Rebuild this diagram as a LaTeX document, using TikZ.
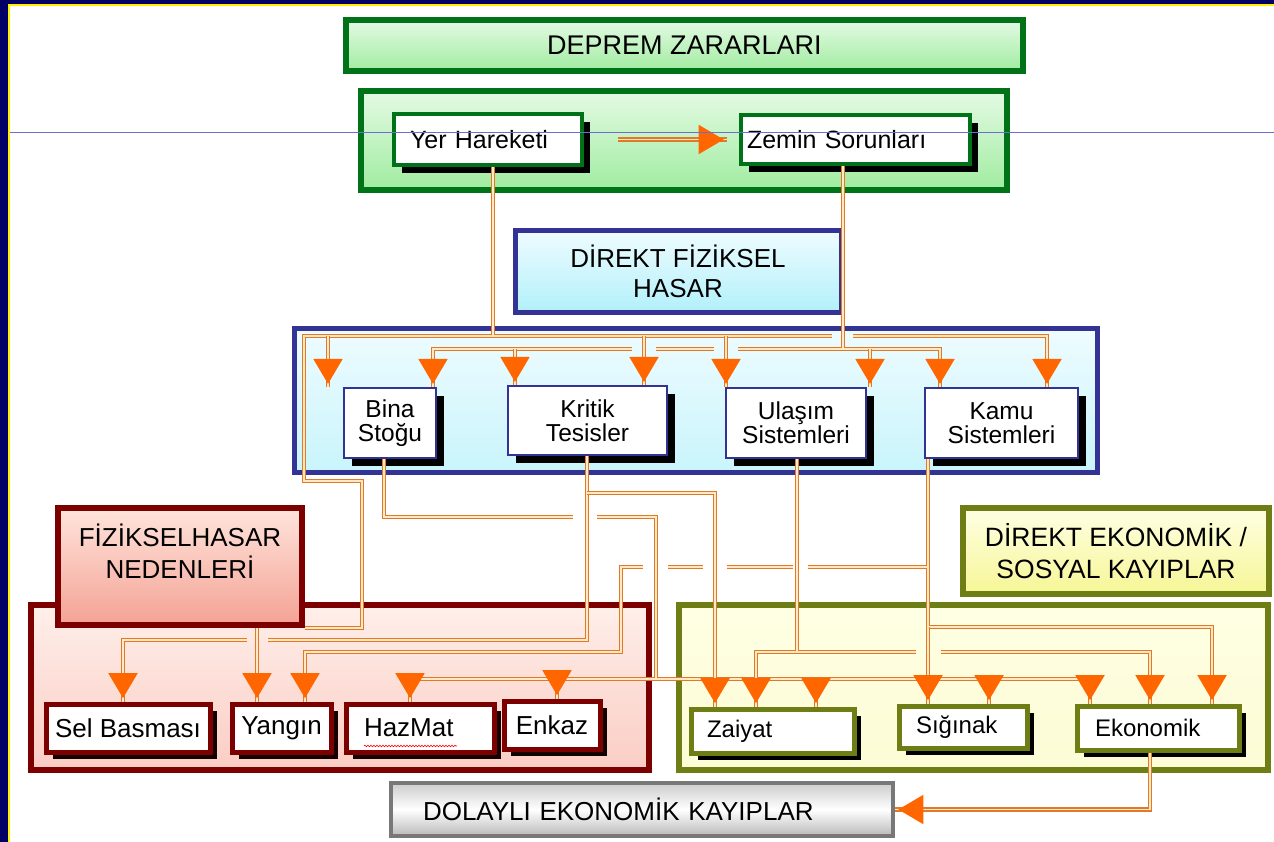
\documentclass[tikz,border=0pt]{standalone}
\usepackage{fontspec}
\setmainfont{Liberation Sans}
\usepackage{tikz}
\usetikzlibrary{arrows.meta,shadows,decorations.markings,decorations.pathmorphing}
\usepackage{xcolor}
\definecolor{framenavy}{RGB}{0,0,102}
\definecolor{dzgreen}{RGB}{0,115,25}
\definecolor{dzgreentop}{RGB}{228,250,228}
\definecolor{dzgreenbot}{RGB}{160,236,160}
\definecolor{dzblue}{RGB}{51,51,150}
\definecolor{dzcyantop}{RGB}{238,252,255}
\definecolor{dzcyanbot}{RGB}{178,240,250}
\definecolor{dzred}{RGB}{125,0,0}
\definecolor{dzpinktop}{RGB}{255,228,220}
\definecolor{dzpinkbot}{RGB}{244,162,148}
\definecolor{dzpinkmid}{RGB}{250,205,196}
\definecolor{dzolive}{RGB}{110,125,20}
\definecolor{dzyellowtop}{RGB}{255,255,228}
\definecolor{dzyellowbot}{RGB}{246,246,150}
\definecolor{dzgrey}{RGB}{120,120,120}
\definecolor{wireorange}{RGB}{222,122,40}
\definecolor{wirecore}{RGB}{255,232,195}
\definecolor{arrorange}{RGB}{255,102,0}
\definecolor{strayblue}{RGB}{110,110,210}
\tikzstyle{wire} = [draw=wireorange, line width=1.4pt, double=wirecore, double distance=1.9pt]
\tikzstyle{tipped} = [postaction={decorate, decoration={markings, mark=at position 1 with {\arrow[arrorange]{Triangle[width=34pt,length=30pt]}}}}]
\tikzstyle{greenbox} = [draw=dzgreen, line width=6pt, top color=dzgreentop, bottom color=dzgreenbot, font=\fontsize{27pt}{32pt}\selectfont]
\tikzstyle{greenleaf} = [draw=dzgreen, line width=4pt, fill=white, drop shadow={shadow xshift=8pt, shadow yshift=-8pt, fill=black, opacity=1}, font=\fontsize{25pt}{28pt}\selectfont, align=left]
\tikzstyle{bluebox} = [draw=dzblue, line width=5pt, top color=dzcyantop, bottom color=dzcyanbot, font=\fontsize{26pt}{30pt}\selectfont, align=center]
\tikzstyle{blueleaf} = [draw=dzblue, line width=1.5pt, fill=white, drop shadow={shadow xshift=8pt, shadow yshift=-8pt, fill=black, opacity=1}, font=\fontsize{24.5pt}{24pt}\selectfont, align=center]
\tikzstyle{redbox} = [draw=dzred, line width=6pt, top color=dzpinktop!60!white, bottom color=dzpinkmid]
\tikzstyle{redhead} = [draw=dzred, line width=6pt, top color=dzpinktop, bottom color=dzpinkbot]
\tikzstyle{redleaf} = [draw=dzred, line width=5pt, fill=white, drop shadow={shadow xshift=7pt, shadow yshift=-7pt, fill=black!85!dzred, opacity=1}, font=\fontsize{26pt}{28pt}\selectfont]
\tikzstyle{olivebox} = [draw=dzolive, line width=6pt, top color=dzyellowtop, bottom color=dzyellowbot, font=\fontsize{26.5pt}{32pt}\selectfont, align=center]
\tikzstyle{oliveleaf} = [draw=dzolive, line width=5pt, fill=white, drop shadow={shadow xshift=7pt, shadow yshift=-7pt, fill=black, opacity=1}, font=\fontsize{24pt}{28pt}\selectfont, align=left]
\tikzstyle{greybox} = [draw=dzgrey, line width=4pt, top color=gray!40, bottom color=gray!55, middle color=white, font=\fontsize{26pt}{30pt}\selectfont, align=left]
\tikzstyle{bigtext} = [font=\fontsize{26pt}{32pt}\selectfont, align=center]

\begin{document}
\begin{tikzpicture}[x=1pt, y=-1pt]
\useasboundingbox (0,0) rectangle (1274,842);
% Frame
\fill[framenavy] (0,0) rectangle (1274,842);
\fill[white] (10,6) rectangle (1274,842);
\draw[yellow, line width=2pt] (9,842) -- (9,5) -- (1274,5);

% Deprem zararlari
\node[greenbox, minimum width=677pt, minimum height=51pt] (zarar) at (684.5,45.5) {DEPREM ZARARLARI};
\node[greenbox, minimum width=646pt, minimum height=99pt] (yerzemin) at (684,140.5) {};
\node[greenleaf, minimum width=188pt, minimum height=51pt, text width=156pt, inner xsep=16pt] (yer) at (488,139.5) {Yer Hareketi};
\node[greenleaf, minimum width=229pt, minimum height=49pt, text width=217pt, inner xsep=6pt] (zemin) at (855.5,139.5) {Zemin Sorunları};

% Direkt fiziksel hasar
\node[bluebox, minimum width=326pt, minimum height=81pt] (dfh) at (678,271.5) {DİREKT FİZİKSEL\\HASAR};
\node[bluebox, minimum width=803pt, minimum height=144pt, top color=dzcyantop, bottom color=dzcyanbot!70!white] (hasar) at (695.5,400) {};
\node[blueleaf, minimum width=92pt, minimum height=70pt] (bina) at (390,423) {Bina\\Stoğu};
\node[blueleaf, minimum width=159pt, minimum height=69pt] (kritik) at (587.5,420.5) {Kritik\\Tesisler};
\node[blueleaf, minimum width=140pt, minimum height=70pt] (ulasim) at (796,423) {Ulaşım\\Sistemleri};
\node[blueleaf, minimum width=153pt, minimum height=70pt] (kamu) at (1001.5,423) {Kamu\\Sistemleri};

% Fiziksel hasar nedenleri
\node[redbox, minimum width=618pt, minimum height=165pt] (neden) at (340,687.5) {};
\node[redhead, minimum width=244pt, minimum height=117pt] (fhn) at (180,566.5) {};
\node[bigtext] (fhnlabel) at (180,551) {FİZİKSELHASAR\\NEDENLERİ};
\node[redleaf, minimum width=164pt, minimum height=48pt] (sel) at (128,728) {Sel Basması};
\node[redleaf, minimum width=99pt, minimum height=48pt] (yangin) at (281.5,728) {Yangın};
\node[redleaf, minimum width=148pt, minimum height=48pt, text width=112pt, inner xsep=18pt, align=left] (hazmat) at (420,728) {HazMat};
\node[redleaf, minimum width=96pt, minimum height=48pt] (enkaz) at (552,725) {Enkaz};
\draw[red, line width=0.6pt, decorate, decoration={snake, amplitude=0.8pt, segment length=3pt}] (364,746) -- (457,746);

% Direkt ekonomik / sosyal kayiplar
\node[olivebox, minimum width=306pt, minimum height=86pt] (dek) at (1116,551) {DİREKT EKONOMİK /\\SOSYAL KAYIPLAR};
\node[olivebox, minimum width=589pt, minimum height=165pt, top color=dzyellowtop, bottom color=dzyellowbot!40!white] (kayip) at (973.5,687.5) {};
\node[oliveleaf, minimum width=163pt, minimum height=44pt, text width=131pt, inner xsep=16pt] (zaiyat) at (772.5,731) {Zaiyat};
\node[oliveleaf, minimum width=128pt, minimum height=42pt, text width=94pt, inner xsep=17pt] (siginak) at (963,727) {Sığınak};
\node[oliveleaf, minimum width=162pt, minimum height=44pt, text width=126pt, inner xsep=18pt] (ekonomik) at (1158,728) {Ekonomik};

% Dolayli kayiplar
\node[greybox, minimum width=502pt, minimum height=53pt, text width=438pt, inner xsep=32pt] (dolayli) at (642,809.5) {DOLAYLI EKONOMİK KAYIPLAR};

% Yer Hareketi -> Zemin Sorunlari
\draw[wire, tipped] ([xshift=34pt]yer.east) -- ([xshift=-12pt]zemin.west);

% Yer Hareketi
\draw[wire] (yer.south -| 493,0) -- (493,336)
  (1047,336) -- (853,336) (832,336) -- (304,336) |- (362,481) |- (fhn.south east);
\foreach \x/\dest in {328/bina, 644/kritik, 726/ulasim}
  \draw[wire, tipped] (\x,336) -- (\x,0 |- \dest.north);
\draw[wire, tipped] (1035,336) -| (1047,0 |- kamu.north);

% Zemin Sorunlari
\draw[wire] (zemin.south -| 843,0) -- (843,349)
  (433,349) -- (632,349) (656,349) -- (714,349) (738,349) -- (940,349);
\draw[wire, tipped] (445,349) -| (433,0 |- bina.north);
\foreach \x/\dest in {515/kritik, 870/ulasim}
  \draw[wire, tipped] (\x,349) -- (\x,0 |- \dest.north);
\draw[wire, tipped] (928,349) -| (940,0 |- kamu.north);

% Bina Stogu
\draw[wire] (bina.south -| 384,0) |- (573,517) (597,517) -| (656,679) (410,679) -- (1090,679);
\draw[wire, tipped] (422,679) -| (410,0 |- hazmat.north);
\foreach \x/\dest in {557/enkaz, 816/zaiyat, 989/siginak}
  \draw[wire, tipped] (\x,679) -- (\x,0 |- \dest.north);
\draw[wire, tipped] (1078,679) -| (1090,0 |- ekonomik.north);

% Kritik Tesisler
\draw[wire] (kritik.south -| 587,0) |- (268,640) (247,640) -- (135,640);
\draw[wire, tipped] (135,640) -| (123,0 |- sel.north);
\draw[wire, tipped] (587,493) -| (715,0 |- zaiyat.north);

% Ulasim Sistemleri
\draw[wire] (ulasim.south -| 797,0) -- (797,652) (768,652) -- (916,652) (941,652) -- (1138,652);
\draw[wire, tipped] (768,652) -| (756,0 |- zaiyat.north);
\draw[wire, tipped] (1138,652) -| (1150,0 |- ekonomik.north);

% Kamu Sistemleri
\draw[wire] (kamu.south -| 928,0) -- (928,627) -- (1200,627)
  (928,567) -- (808,567) (793,567) -- (727,567) (703,567) -- (668,567) (643,567) -| (621,652) -- (317,652);
\draw[wire, tipped] (928,627) -- (928,0 |- siginak.north);
\draw[wire, tipped] (1200,627) -| (1212,0 |- ekonomik.north);
\draw[wire, tipped] (317,652) -| (305,0 |- yangin.north);

% Nedenler -> Yangin
\draw[wire, tipped] (fhn.south -| 257,0) -- (257,0 |- yangin.north);

% Ekonomik -> Dolayli
\draw[wire, tipped] (ekonomik.south -| 1150,0) |- (dolayli.east);

% Guide line
\draw[strayblue, line width=0.8pt] (10,132) -- (1274,132);
\end{tikzpicture}
\end{document}
